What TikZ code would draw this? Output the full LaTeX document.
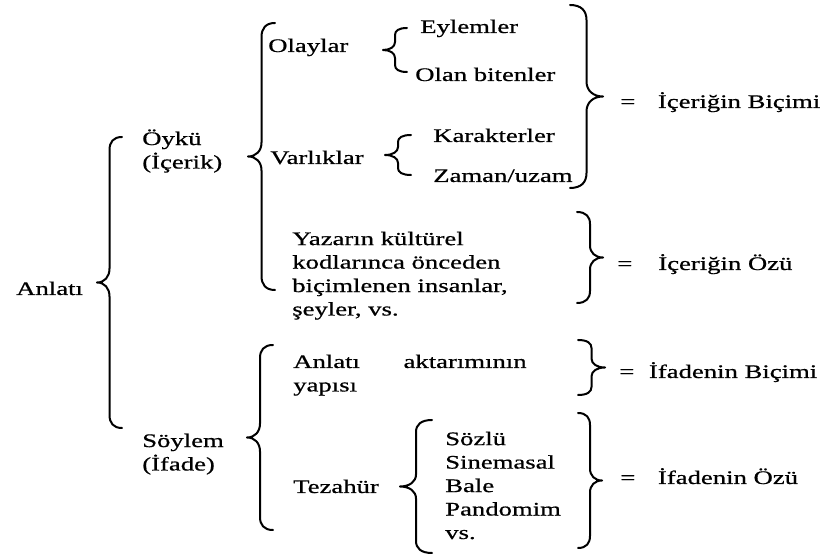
\documentclass[tikz,border=0pt]{standalone}
\usepackage{fontspec}
\setmainfont{Liberation Serif}[FakeStretch=1.39, FakeBold=0.7]
\usetikzlibrary{calc, positioning}

% curly brace: top, bottom, width (>0 opens right, <0 opens left), curl, tip half
\newcommand\drawbrace[5]{%
  \draw[bracepath] (#1) .. controls +({-0.35*(#3)},0) and +(0,{-0.6*(#4)}) .. ($(#1)+({-0.5*(#3)},#4)$)
    -- ($(#1)!0.5!(#2)+({-0.5*(#3)},{-(#5)})$) .. controls +(0,{0.6*(#5)}) and +({0.3*(#3)},0) .. ($(#1)!0.5!(#2)+({-(#3)},0)$)
    .. controls +({0.3*(#3)},0) and +(0,{-0.6*(#5)}) .. ($(#1)!0.5!(#2)+({-0.5*(#3)},#5)$)
    -- ($(#2)+({-0.5*(#3)},{-(#4)})$) .. controls +(0,{0.6*(#4)}) and +({-0.35*(#3)},0) .. (#2);}

\begin{document}
\begin{tikzpicture}[x=0.75pt, y=-0.75pt,
    every node/.style={font=\fontsize{14.4pt}{17.6pt}\selectfont, inner sep=0pt, anchor=base west},
    bracepath/.style={line width=1.5pt, line cap=round, line join=round}]
    \useasboundingbox (0,0) rectangle (829,559);

    % left column (multi-line nodes sit on their last baseline)
    \node (anlati) at (16,295) {Anlatı};
    \node[align=left] (oyku) at (142,168.5) {Öykü\\(İçerik)};
    \node[align=left] (soylem) at (142,470.5) {Söylem\\(İfade)};

    % story side
    \node (olaylar) at (268,52) {Olaylar};
    \node (varliklar) at (270,164) {Varlıklar};
    \node (eylem) at (420,33) {Eylemler};
    \node (olan) at (415,81) {Olan bitenler};
    \node (karakter) at (433,142) {Karakterler};
    \node (zaman) at (433,182) {Zaman/uzam};
    \node[align=left] (yazar) at (292,315.5) {Yazarın kültürel\\kodlarınca önceden\\biçimlenen insanlar,\\şeyler, vs.};

    % discourse side
    \node[text width=175pt, align=left] (aktarim) at (293,368) {Anlatı\hfill aktarımının\\yapısı};
    \node (tezahur) at (293,493) {Tezahür};
    \node[align=left] (turler) at (445,539) {Sözlü\\Sinemasal\\Bale\\Pandomim\\vs.};

    % results
    \node (icbicim) at (620,108) {=\hspace{17pt}İçeriğin Biçimi};
    \node (icoz) at (617,270) {=\hspace{19.5pt}İçeriğin Özü};
    \node (ifbicim) at (619,378) {=\hspace{11pt}İfadenin Biçimi};
    \node (ifoz) at (620,484) {=\hspace{17pt}İfadenin Özü};

    % brace ends
    \coordinate (anl1) at (122,137);  \coordinate (anl2) at (122,428);
    \coordinate (oyk1) at (275,23);   \coordinate (oyk2) at (275,290);
    \coordinate (soy1) at (273,345);  \coordinate (soy2) at (273,530);
    \coordinate (ola1) at (407,28);   \coordinate (ola2) at (407,72);
    \coordinate (var1) at (411,135);  \coordinate (var2) at (411,175);
    \coordinate (tez1) at (432,420);  \coordinate (tez2) at (432,553);
    \coordinate (icb1) at (570,5);    \coordinate (icb2) at (570,188);
    \coordinate (ico1) at (577,212);  \coordinate (ico2) at (577,303);
    \coordinate (ifb1) at (578,340);  \coordinate (ifb2) at (578,395);
    \coordinate (ifo1) at (578,413);  \coordinate (ifo2) at (578,548);

    \drawbrace{anl1}{anl2}{25}{13}{14}
    \drawbrace{oyk1}{oyk2}{27}{14}{14}
    \drawbrace{soy1}{soy2}{26}{13}{14}
    \drawbrace{ola1}{ola2}{24}{7}{8}
    \drawbrace{var1}{var2}{26}{7}{8}
    \drawbrace{tez1}{tez2}{32}{12}{12}
    \drawbrace{icb1}{icb2}{-33}{15}{15}
    \drawbrace{ico1}{ico2}{-26}{12}{12}
    \drawbrace{ifb1}{ifb2}{-27}{8}{9}
    \drawbrace{ifo1}{ifo2}{-24}{12}{12}
\end{tikzpicture}
\end{document}
